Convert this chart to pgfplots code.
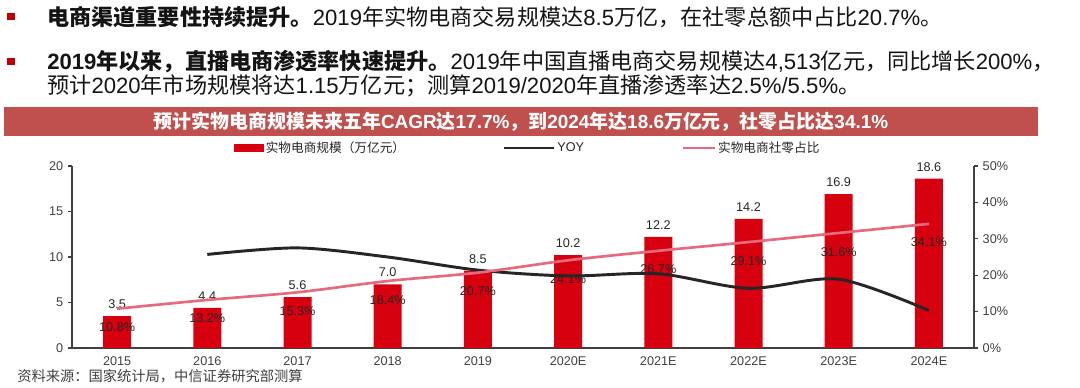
\documentclass[border=0pt]{standalone}
\usepackage{fontspec}
\setmainfont{Liberation Sans}
\newfontfamily\cjk{Noto Sans CJK SC}
\usepackage{pgfplots}
\pgfplotsset{compat=1.18}
\definecolor{barred}{RGB}{215,0,15}
\definecolor{pinkline}{RGB}{230,105,125}
\definecolor{yoyblack}{RGB}{38,38,38}
\definecolor{axisgray}{RGB}{64,64,64}
\definecolor{labelgray}{RGB}{38,38,38}
\definecolor{banner}{RGB}{192,80,77}
\definecolor{bullet}{RGB}{192,0,0}
\definecolor{txt}{RGB}{20,20,20}
\newcommand\zh[1]{{\cjk #1}}
\begin{document}
\begin{tikzpicture}
\path[use as bounding box] (0,0) rectangle (810pt,291pt);
% top text (y_img -> (388-y)*0.75pt)
\fill[bullet] (5.5pt,{(388-20.5)*0.75pt}) rectangle (11.5pt,{(388-13.5)*0.75pt});
\fill[bullet] (5.5pt,{(388-65.5)*0.75pt}) rectangle (11.5pt,{(388-58.5)*0.75pt});
\node[anchor=west,inner sep=0pt,text=txt,font=\fontsize{16.6}{19}\selectfont] at (35.25pt,{(388-17)*0.75pt})
 {{\bfseries\zh{电商渠道重要性持续提升。}}2019\zh{年实物电商交易规模达}8.5\zh{万亿，在社零总额中占比}20.7\%\zh{。}};
\node[anchor=west,inner sep=0pt,text=txt,font=\fontsize{16.6}{19}\selectfont] at (35.25pt,{(388-62)*0.75pt})
 {{\bfseries 2019\zh{年以来，直播电商渗透率快速提升。}}2019\zh{年中国直播电商交易规模达}4,513\zh{亿元，同比增长}200\%\zh{，}};
\node[anchor=west,inner sep=0pt,text=txt,font=\fontsize{16.6}{19}\selectfont] at (35.25pt,{(388-86)*0.75pt})
 {\zh{预计}2020\zh{年市场规模将达}1.15\zh{万亿元；测算}2019/2020\zh{年直播渗透率达}2.5\%/5.5\%\zh{。}};
% banner
\fill[banner] (3pt,{(388-136)*0.75pt}) rectangle (778.5pt,{(388-107)*0.75pt});
\node[inner sep=0pt,text=white,font=\fontsize{14.2}{17}\selectfont\bfseries] at (390.75pt,{(388-121.5)*0.75pt})
 {\zh{预计实物电商规模未来五年}CAGR\zh{达}17.7\%\zh{，到}2024\zh{年达}18.6\zh{万亿元，社零占比达}34.1\%};
% source
\node[anchor=west,inner sep=0pt,text=axisgray,font=\fontsize{10.7}{12}\selectfont] at (12.75pt,{(388-376)*0.75pt})
 {\zh{资料来源：国家统计局，中信证券研究部测算}};

\begin{axis}[
  at={(54pt,30pt)}, anchor=south west, scale only axis,
  width=676.5pt, height=136.5pt,
  xmin=-0.5, xmax=9.5, ymin=0, ymax=20,
  axis x line*=bottom, axis y line*=left,
  axis line style={draw=axisgray, line width=1pt, -},
  xtick={0,...,9},
  xticklabels={2015,2016,2017,2018,2019,2020E,2021E,2022E,2023E,2024E},
  x tick style={draw=none},
  ytick={0,5,10,15,20},
  y tick style={draw=axisgray, line width=0.8pt},
  tick align=outside, major tick length=3pt,
  ticklabel style={font=\fontsize{9.5}{11}\selectfont, text=axisgray},
  /pgf/number format/assume math mode=true,
  clip=false,
  legend style={at={(axis description cs:0.1796,1.099)}, anchor=west, draw=none, fill=none, inner sep=0pt,
    font=\fontsize{9.5}{10}\selectfont\cjk, text=labelgray,
    nodes={inner xsep=1.5pt},
    /tikz/every odd column/.append style={column sep=0pt},
    /tikz/every even column/.append style={column sep=71.5pt}},
  legend columns=3,
]
\addplot[ybar, bar width=21pt, fill=barred, draw=none, forget plot,
  nodes near coords, point meta=explicit symbolic,
  every node near coord/.append style={font=\fontsize{9.5}{11}\selectfont, text=labelgray, yshift=2pt}]
  coordinates {(0,3.5)[3.5] (1,4.4)[4.4] (2,5.6)[5.6] (3,7.0)[7.0] (4,8.5)[8.5]
               (5,10.2)[10.2] (6,12.2)[12.2] (7,14.2)[14.2] (8,16.9)[16.9] (9,18.6)[18.6]};
\addlegendimage{legend image code/.code={\fill[barred] (0pt,-2.6pt) rectangle (21.75pt,2.6pt);}}
\addlegendentry{实物电商规模（万亿元）}
\addlegendimage{legend image code/.code={\draw[yoyblack,line width=2.2pt] (0pt,0pt) -- (37.5pt,0pt);}}
\addlegendentry{\rmfamily YOY}
\addlegendimage{legend image code/.code={\draw[pinkline,line width=2pt] (0pt,0pt) -- (24pt,0pt);}}
\addlegendentry{实物电商社零占比}
\end{axis}

\begin{axis}[
  at={(54pt,30pt)}, anchor=south west, scale only axis,
  width=676.5pt, height=136.5pt,
  xmin=-0.5, xmax=9.5, ymin=0, ymax=50,
  axis x line=none, axis y line*=right,
  axis line style={draw=axisgray, line width=1pt, -},
  ytick={0,10,...,50},
  yticklabel={\pgfmathprintnumber{\tick}\%},
  y tick style={draw=axisgray, line width=0.8pt},
  tick align=outside, major tick length=3pt,
  ticklabel style={font=\fontsize{9.5}{11}\selectfont, text=axisgray},
  /pgf/number format/assume math mode=true,
  clip=false,
]
\addplot[smooth, yoyblack, line width=2.2pt]
  coordinates {(1,25.7) (2,27.5) (3,25.0) (4,21.4) (5,19.8) (6,20.4) (7,16.4) (8,18.9) (9,10.3)};
\addplot[smooth, pinkline, line width=2pt,
  nodes near coords={\pgfplotspointmeta\%}, point meta=explicit symbolic,
  every node near coord/.append style={font=\fontsize{9.5}{11}\selectfont, text=labelgray, anchor=center, yshift=-14pt}]
  coordinates {(0,10.8)[10.8] (1,13.2)[13.2] (2,15.3)[15.3] (3,18.4)[18.4] (4,20.7)[20.7]
               (5,24.1)[24.1] (6,26.7)[26.7] (7,29.1)[29.1] (8,31.6)[31.6] (9,34.1)[34.1]};
\end{axis}
\end{tikzpicture}
\end{document}
